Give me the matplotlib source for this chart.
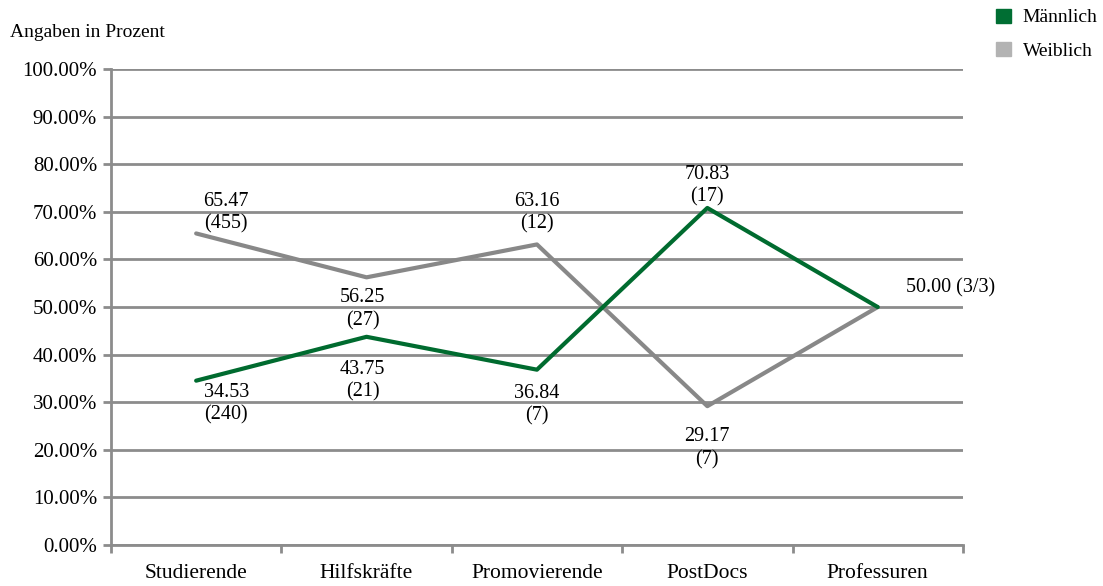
import matplotlib.pyplot as plt
from matplotlib.patches import Patch
from matplotlib.ticker import FuncFormatter

plt.rcParams['font.family'] = ['Liberation Serif', 'DejaVu Serif']
plt.rcParams['font.size'] = 14.5

CATEGORIES = ['Studierende', 'Hilfskräfte', 'Promovierende', 'PostDocs', 'Professuren']
MALE = [34.53, 43.75, 36.84, 70.83, 50.00]
FEMALE = [65.47, 56.25, 63.16, 29.17, 50.00]
MALE_N = ['240', '21', '7', '17', '3/3']
FEMALE_N = ['455', '27', '12', '7', '3/3']

GREEN = '#006b2f'
GREY = '#888888'
GRID = '#8c8c8c'

fig = plt.figure(figsize=(11.03, 5.86), dpi=100)
ax = fig.add_axes([0.1006, 0.070, 0.7724, 0.812])

x = list(range(len(CATEGORIES)))
ax.plot(x, FEMALE, color=GREY, linewidth=3, solid_capstyle='round', zorder=3)
ax.plot(x, MALE, color=GREEN, linewidth=3, solid_capstyle='round', zorder=4)

# label offsets in pixels (dx, dy) for each point
male_off = [(30, -23), (-4, -44), (0, -35), (0, 22), None]
female_off = [(30, 21), (-4, -32), (0, 32), (0, -42), None]

for i in range(len(CATEGORIES)):
    if male_off[i] is not None:
        dx, dy = male_off[i]
        ax.annotate('%.2f\n(%s)' % (MALE[i], MALE_N[i]), (i, MALE[i]),
                    xytext=(dx * 0.72, dy * 0.72), textcoords='offset points',
                    ha='center', va='center', linespacing=1.25)
    if female_off[i] is not None:
        dx, dy = female_off[i]
        ax.annotate('%.2f\n(%s)' % (FEMALE[i], FEMALE_N[i]), (i, FEMALE[i]),
                    xytext=(dx * 0.72, dy * 0.72), textcoords='offset points',
                    ha='center', va='center', linespacing=1.25)

# both groups meet at 50 for Professuren, one label
ax.annotate('%.2f (%s)' % (MALE[4], MALE_N[4]), (4, MALE[4]), xytext=(20, 14),
            textcoords='offset points', ha='left', va='center')

ax.set_xlim(-0.5, 4.5)
ax.set_ylim(0, 100)
ax.set_yticks(range(0, 101, 10))
ax.yaxis.set_major_formatter(FuncFormatter(lambda v, p: '%.2f%%' % v))
ax.set_xticks([i - 0.5 for i in range(len(CATEGORIES) + 1)])
ax.set_xticklabels([])
ax.set_xticks(x, minor=True)
ax.set_xticklabels(CATEGORIES, minor=True)
ax.tick_params(axis='x', which='minor', length=0, pad=14, labelsize=15.5)
ax.tick_params(axis='x', which='major', length=6, width=2, color=GRID, direction='out')
ax.tick_params(axis='y', length=6, width=2, color=GRID, direction='out', pad=4, labelsize=15)

ax.grid(axis='y', color=GRID, linewidth=2)
ax.set_axisbelow(True)
for s in ['top', 'right']:
    ax.spines[s].set_visible(False)
for s in ['left', 'bottom']:
    ax.spines[s].set_color(GRID)
    ax.spines[s].set_linewidth(2)

fig.text(0.009, 0.945, 'Angaben in Prozent', fontsize=14, ha='left', va='center')

handles = [Patch(color='#006e33', label='Männlich'), Patch(color='#b3b3b3', label='Weiblich')]
fig.legend(handles=handles, loc='upper right', bbox_to_anchor=(1.009, 1.012), frameon=False,
           handlelength=0.75, handleheight=0.75, handletextpad=0.6, labelspacing=0.8,
           fontsize=14, borderaxespad=0.4)

fig.savefig('out.png', dpi=100)
